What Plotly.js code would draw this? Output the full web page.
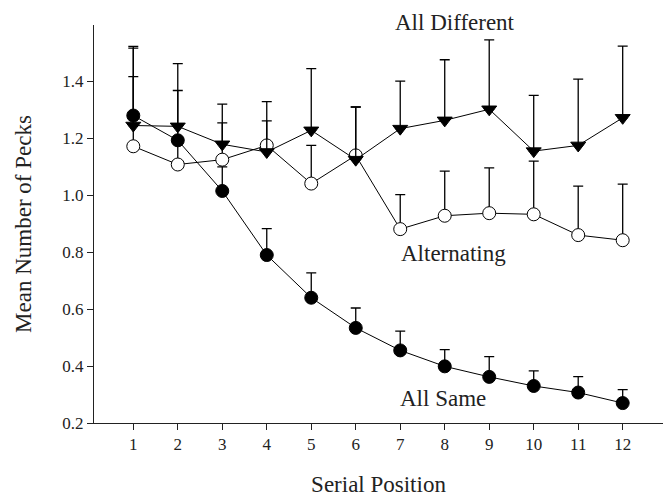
<!DOCTYPE html>
<html>
<head>
<meta charset="utf-8">
<script src="https://cdn.plot.ly/plotly-3.0.1.min.js"></script>
<style>html,body{margin:0;padding:0;background:#fff;}#chart{width:668px;height:497px;}</style>
</head>
<body>
<div id="chart"></div>
<script>
const positions = [1,2,3,4,5,6,7,8,9,10,11,12];

const allSame      = [1.28,1.193,1.015,0.79,0.64,0.534,0.455,0.399,0.362,0.33,0.307,0.27];
const allSameTop   = [1.417,1.368,1.10,0.883,0.727,0.604,0.523,0.458,0.433,0.383,0.363,0.317];

const allDiff      = [1.245,1.242,1.179,1.152,1.228,1.125,1.234,1.263,1.302,1.155,1.175,1.272];
const allDiffTop   = [1.523,1.462,1.320,1.261,1.445,1.31,1.401,1.476,1.546,1.351,1.408,1.524];

const altern       = [1.172,1.108,1.125,1.175,1.041,1.14,0.881,0.928,0.937,0.933,0.86,0.842];
const alternTop    = [1.517,1.19,1.254,1.329,1.175,1.31,1.002,1.085,1.096,1.12,1.032,1.039];

const xTicks = [1,2,3,4,5,6,7,8,9,10,11,12];
const yTicks = [0.2,0.4,0.6,0.8,1.0,1.2,1.4];
const yTickText = ['0.2','0.4','0.6','0.8','1.0','1.2','1.4'];

function plus(vals, tops){ return vals.map((v,i)=>tops[i]-v); }
function zeros(n){ return new Array(n).fill(0); }

function errBar(vals, tops){
  return {type:'data', symmetric:false, array:plus(vals,tops), arrayminus:zeros(vals.length),
          color:'#000', thickness:1.3, width:5, visible:true};
}

const traces = [
  {x:positions, y:altern, name:'Alternating', mode:'lines+markers',
   line:{color:'#000', width:1},
   marker:{symbol:'circle', size:13, color:'#fff', line:{color:'#000', width:1}},
   error_y:errBar(altern, alternTop)},
  {x:positions, y:allSame, name:'All Same', mode:'lines+markers',
   line:{color:'#000', width:1},
   marker:{symbol:'circle', size:13, color:'#000', line:{color:'#000', width:1}},
   error_y:errBar(allSame, allSameTop)},
  {x:positions, y:allDiff, name:'All Different', mode:'lines+markers',
   line:{color:'#000', width:1},
   marker:{symbol:'triangle-down', size:13, color:'#000', line:{color:'#000', width:1}},
   error_y:errBar(allDiff, allDiffTop)}
];

const serif = 'Liberation Serif, Times New Roman, serif';

const layout = {
  width:668, height:497,
  margin:{l:94, r:5, t:25, b:74},
  paper_bgcolor:'#fff', plot_bgcolor:'#fff',
  showlegend:false,
  font:{family:serif, color:'#222', size:17},
  xaxis:{
    range:[0.117,12.906], tickvals:xTicks, ticktext:xTicks.map(String),
    showgrid:false, zeroline:false, showline:true, linecolor:'#222', linewidth:1,
    ticks:'outside', ticklen:6, tickcolor:'#222', tickwidth:1,
    tickfont:{family:serif, size:17, color:'#222'},
    title:{text:'Serial Position', font:{family:serif, size:23, color:'#222'}, standoff:35}
  },
  yaxis:{
    range:[0.2,1.598], tickvals:yTicks, ticktext:yTickText,
    showgrid:false, zeroline:false, showline:true, linecolor:'#222', linewidth:1,
    ticks:'outside', ticklen:6, tickcolor:'#222', tickwidth:1,
    tickfont:{family:serif, size:17, color:'#222'},
    title:{text:'Mean Number of Pecks', font:{family:serif, size:23, color:'#222'}, standoff:24}
  },
  annotations:[
    {x:8.23, y:1.0064, xref:'x', yref:'paper', yanchor:'middle', xanchor:'center',
     text:'All Different', showarrow:false,
     font:{family:serif, size:23, color:'#222'}},
    {x:8.19, y:0.796, xref:'x', yref:'y', yanchor:'middle', xanchor:'center',
     text:'Alternating', showarrow:false,
     font:{family:serif, size:23, color:'#222'}},
    {x:7.96, y:0.287, xref:'x', yref:'y', yanchor:'middle', xanchor:'center',
     text:'All Same', showarrow:false,
     font:{family:serif, size:23, color:'#222'}}
  ]
};

Plotly.newPlot('chart', traces, layout, {displayModeBar:false, staticPlot:true});
</script>
</body>
</html>
